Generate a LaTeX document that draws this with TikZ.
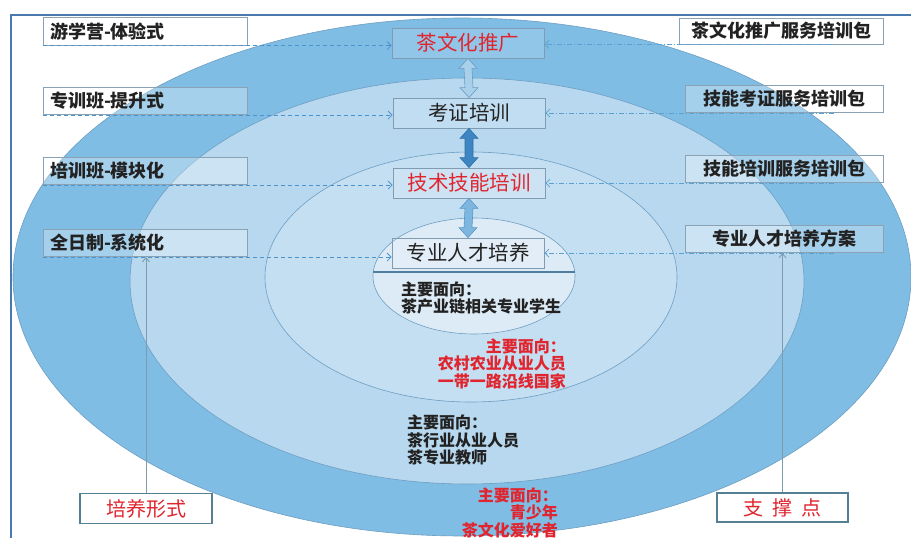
\documentclass[tikz,border=0pt]{standalone}
\usepackage{fontspec}
\newfontfamily\cjk{Noto Sans CJK SC}
\usetikzlibrary{arrows.meta,calc}
\definecolor{ringA}{HTML}{7FBDE4}
\definecolor{ringB}{HTML}{B7D8EF}
\definecolor{ringC}{HTML}{C5DFF2}
\definecolor{ringD}{HTML}{DDEBF6}
\definecolor{ringline}{HTML}{6E9EC2}
\definecolor{innerline}{HTML}{4F7FA0}
\definecolor{framec}{HTML}{4A79B0}
\definecolor{boxline}{HTML}{7F9CB3}
\definecolor{sideline}{HTML}{8AA2B4}
\definecolor{botline}{HTML}{557F93}
\definecolor{txtred}{HTML}{E0252F}
\definecolor{txtblk}{HTML}{222222}
\definecolor{dashc}{HTML}{4B93CC}
\definecolor{dotc}{HTML}{5AA0D0}
\definecolor{arrA}{HTML}{A9D0EA}
\definecolor{arrAl}{HTML}{6A9CC4}
\definecolor{arrB}{HTML}{3D86C2}
\definecolor{arrBl}{HTML}{2F6FA5}
\definecolor{arrC}{HTML}{7DB7E0}
\definecolor{arrCl}{HTML}{5A95C4}
\definecolor{vlinec}{HTML}{7F9CAE}
\newcommand\DblArrow[3]{%
  \draw[#3] (#1.south) -- ($(#1.south)+(9,10)$) -- ($(#1.south)+(4,10)$)
    -- ($(#2.north)+(4,-10)$) -- ($(#2.north)+(9,-10)$) -- (#2.north)
    -- ($(#2.north)+(-9,-10)$) -- ($(#2.north)+(-4,-10)$)
    -- ($(#1.south)+(-4,10)$) -- ($(#1.south)+(-9,10)$) -- cycle;}
\begin{document}
\begin{tikzpicture}[x=1pt,y=-1pt,
  ringstyle/.style={draw=ringline, line width=0.6pt},
  cbox/.style={draw=boxline, line width=0.8pt, fill=white, fill opacity=0.15, text opacity=1,
    minimum width=152pt, minimum height=30pt, inner sep=0pt,
    font=\cjk\fontsize{20.5}{22}\selectfont},
  lbox/.style={draw=sideline, line width=0.7pt, fill=white, fill opacity=0.3, text opacity=1,
    text width=190pt, align=left, inner xsep=7pt, inner ysep=0pt, minimum height=27.5pt,
    font=\cjk\bfseries\fontsize{18}{19}\selectfont, text=txtblk},
  rbox/.style={draw=sideline, line width=0.7pt, fill=white, fill opacity=0.3, text opacity=1,
    minimum width=198pt, minimum height=27.5pt, inner sep=0pt,
    font=\cjk\bfseries\fontsize{18}{19}\selectfont, text=txtblk},
  bbox/.style={draw=botline, line width=1.5pt, fill=white, inner sep=0pt,
    minimum width=132pt, minimum height=30pt, text=txtred,
    font=\cjk\fontsize{20}{22}\selectfont},
  larrow/.style={draw=dashc, line width=0.8pt, dash pattern=on 4pt off 3pt,
    -{Straight Barb[length=4pt,width=8pt]}},
  rarrow/.style={draw=dotc, line width=0.8pt, dash pattern=on 5pt off 2pt on 1pt off 2pt,
    -{Straight Barb[length=4pt,width=8pt]}},
  vline/.style={draw=vlinec, line width=0.9pt, -{Straight Barb[length=4pt,width=7pt]}},
  note/.style={inner sep=0pt, font=\cjk\bfseries\fontsize{16}{17.5}\selectfont},
]
\useasboundingbox (0,0) rectangle (911,538);
\fill[white] (0,0) rectangle (911,538);
% rings
\filldraw[ringstyle, fill=ringA] (462,277) ellipse [x radius=449pt, y radius=259pt];
\filldraw[ringstyle, fill=ringB] (467,281) ellipse [x radius=337pt, y radius=203pt];
\filldraw[ringstyle, fill=ringC] (471,277) ellipse [x radius=206pt, y radius=125pt];
\filldraw[ringstyle, fill=ringD] (474,276) ellipse [x radius=101pt, y radius=58pt];
\draw[draw=innerline, line width=1.2pt] (373.2,272) -- (574.8,272);
% frame
\draw[framec, line width=2.5pt] (11,538) -- (11,15) -- (911,15);
% centre column
\node[cbox, text=txtred] (c1) at (468,43) {茶文化推广};
\node[cbox, text=txtblk] (c2) at (469,113) {考证培训};
\node[cbox, text=txtred] (c3) at (469,183) {技术技能培训};
\node[cbox, text=txtblk] (c4) at (468,253) {专业人才培养};
\DblArrow{c1}{c2}{fill=arrA, draw=arrAl, line width=0.6pt}
\DblArrow{c2}{c3}{fill=arrB, draw=arrBl, line width=0.6pt}
\DblArrow{c3}{c4}{fill=arrC, draw=arrCl, line width=0.6pt}
% left boxes
\node[lbox] (l1) at (145,31.5) {游学营-体验式};
\node[lbox] (l2) at (145,101) {专训班-提升式};
\node[lbox] (l3) at (145,171) {培训班-模块化};
\node[lbox] (l4) at (145,243) {全日制-系统化};
% right boxes
\node[rbox, minimum width=204pt, minimum height=26pt] (r1) at (781,31) {茶文化推广服务培训包};
\node[rbox] (r2) at (784,99) {技能考证服务培训包};
\node[rbox] (r3) at (784,169) {技能培训服务培训包};
\node[rbox] (r4) at (784,239) {专业人才培养方案};
% left arrows
\foreach \i in {1,2,3,4}{
  \draw[larrow] (l\i.south west) -- (l\i.south west -| c\i.west);
}
% right arrows
\foreach \i in {1,2,3,4}{
  \coordinate (rs\i) at ($(r\i.south west)!0.75!(r\i.south east)$);
  \draw[rarrow] (rs\i) -- (rs\i -| c\i.east);
}
% notes
\node[note, text=txtblk, anchor=north west, align=left] (n1) at (401,281.5)
  {\fontsize{16}{15.5}\selectfont 主要面向：\\茶产业链相关专业学生};
\node[note, text=txtred, anchor=north east, align=right] (n2) at (566,338.5)
  {主要面向：\\农村农业从业人员\\一带一路沿线国家};
\node[note, text=txtblk, anchor=north west, align=left] (n3) at (407,415)
  {主要面向：\\茶行业从业人员\\茶专业教师};
\node[note, text=txtred, anchor=north east, align=right] (n4) at (558,487.5)
  {\fontsize{16}{15.5}\selectfont 主要面向：\\青少年\\茶文化爱好者};
% bottom boxes
\node[bbox] (b1) at (146,508.5) {培养形式};
\node[bbox, minimum width=131pt, minimum height=29pt] (b2) at (782.5,507.5) {支\hspace{0.45em}撑\hspace{0.45em}点};
\draw[vline] (b1.north) -- (b1.north |- l4.south);
\draw[vline] (b2.north) -- (b2.north |- r4.south);
\end{tikzpicture}
\end{document}
